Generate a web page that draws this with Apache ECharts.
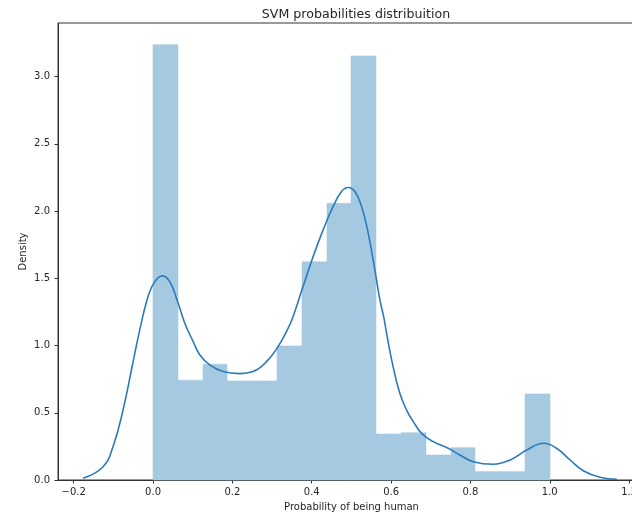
<!DOCTYPE html>
<html>
<head>
<meta charset="utf-8">
<script src="https://cdn.jsdelivr.net/npm/echarts@6/dist/echarts.min.js"></script>
<style>
  html, body { margin: 0; padding: 0; background: #fff; }
  #chart { width: 632px; height: 518px; }
</style>
</head>
<body>
<div id="chart"></div>
<script>
// Histogram: 16 equal bins over [0, 1], density heights
const binEdges = [0, 0.0625, 0.125, 0.1875, 0.25, 0.3125, 0.375, 0.4375, 0.5,
                  0.5625, 0.625, 0.6875, 0.75, 0.8125, 0.875, 0.9375, 1.0];
const binDensity = [3.236, 0.742, 0.861, 0.737, 0.737, 0.997, 1.622, 2.057,
                    3.153, 0.342, 0.352, 0.186, 0.240, 0.062, 0.062, 0.640];

// Kernel density estimate curve
const kdeX = [-0.1765, -0.126, -0.101, -0.0757, -0.0545, -0.0335, -0.0126, 0.0043,
              0.0237, 0.042, 0.0605, 0.08, 0.101, 0.118, 0.143, 0.1766, 0.2187,
              0.252, 0.286, 0.315, 0.336, 0.3515, 0.378, 0.4035, 0.4287, 0.454,
              0.475, 0.4918, 0.5087, 0.5256, 0.5423, 0.559, 0.5718, 0.582, 0.5886,
              0.605, 0.622, 0.639, 0.656, 0.677, 0.706, 0.744, 0.7735, 0.807,
              0.8575, 0.9, 0.942, 0.985, 1.017, 1.051, 1.0845, 1.1266, 1.169];
const kdeY = [0.013, 0.099, 0.248, 0.52, 0.818, 1.116, 1.364, 1.475,
              1.518, 1.475, 1.339, 1.166, 1.03, 0.93, 0.856, 0.806, 0.791,
              0.806, 0.88, 0.992, 1.103, 1.203, 1.438, 1.661, 1.86, 2.034,
              2.145, 2.175, 2.145, 2.034, 1.836, 1.5625, 1.339, 1.203, 1.091,
              0.843, 0.645, 0.52, 0.434, 0.347, 0.285, 0.236, 0.186, 0.136,
              0.117, 0.149, 0.223, 0.273, 0.236, 0.149, 0.069, 0.02, 0.005];

const xTicks = [-0.2, 0.0, 0.2, 0.4, 0.6, 0.8, 1.0, 1.2];
const yTicks = [0.0, 0.5, 1.0, 1.5, 2.0, 2.5, 3.0];

const title = 'SVM probabilities distribuition';
const xName = 'Probability of being human';
const yName = 'Density';

const histData = binDensity.map((h, i) => [binEdges[i], binEdges[i + 1], h]);
const kdeData = kdeX.map((x, i) => [x, kdeY[i]]);

const font = 'DejaVu Sans';
const ink = '#262626';

const chart = echarts.init(document.getElementById('chart'), null, { renderer: 'canvas' });
chart.setOption({
  animation: false,
  backgroundColor: '#fff',
  title: {
    text: title,
    left: 351, top: 3, textAlign: 'center',
    textStyle: { fontFamily: font, fontSize: 12.6, fontWeight: 'normal', color: ink }
  },
  grid: {
    left: 58, top: 23, width: 587, height: 457,
    containLabel: false, outerBoundsMode: 'none',
    show: true, borderColor: '#333', borderWidth: 1, backgroundColor: 'transparent'
  },
  xAxis: {
    type: 'value', min: -0.2396, max: 1.24,
    name: xName, nameLocation: 'middle', nameGap: 22, nameMoveOverlap: false,
    nameTextStyle: { fontFamily: font, fontSize: 10, color: ink },
    splitLine: { show: false },
    axisLine: { show: true, onZero: false, lineStyle: { color: '#333', width: 1 } },
    axisTick: { show: true, length: 3.5, customValues: xTicks, lineStyle: { color: '#333' } },
    axisLabel: {
      customValues: xTicks, margin: 7,
      fontFamily: font, fontSize: 10, color: ink,
      formatter: v => v.toFixed(1).replace('-', '\u2212')
    }
  },
  yAxis: {
    type: 'value', min: 0, max: 3.398,
    name: yName, nameLocation: 'middle', nameGap: 30, nameRotate: 90, nameMoveOverlap: false,
    nameTextStyle: { fontFamily: font, fontSize: 10, color: ink },
    splitLine: { show: false },
    axisLine: { show: true, onZero: false, lineStyle: { color: '#333', width: 1 } },
    axisTick: { show: true, length: 3.5, customValues: yTicks, lineStyle: { color: '#333' } },
    axisLabel: {
      customValues: yTicks, margin: 8,
      fontFamily: font, fontSize: 10, color: ink,
      formatter: v => v.toFixed(1)
    }
  },
  series: [
    {
      type: 'custom',
      name: 'hist',
      data: histData,
      encode: { x: [0, 1], y: 2 },
      renderItem: function (params, api) {
        const p0 = api.coord([api.value(0), 0]);
        const p1 = api.coord([api.value(1), api.value(2)]);
        // snap edges to whole pixels so neighbouring bins meet without seams
        const x0 = Math.round(p0[0]);
        const x1 = Math.round(p1[0]);
        return {
          type: 'rect',
          shape: { x: x0, y: p1[1], width: x1 - x0, height: p0[1] - p1[1] },
          style: { fill: '#a5c9e1', stroke: '#a5c9e1', lineWidth: 0.6 }
        };
      },
      z: 1
    },
    {
      type: 'line',
      name: 'kde',
      data: kdeData,
      smooth: 0.45,
      showSymbol: false,
      lineStyle: { color: '#2b7bba', width: 1.6 },
      z: 3
    }
  ]
});
</script>
</body>
</html>
